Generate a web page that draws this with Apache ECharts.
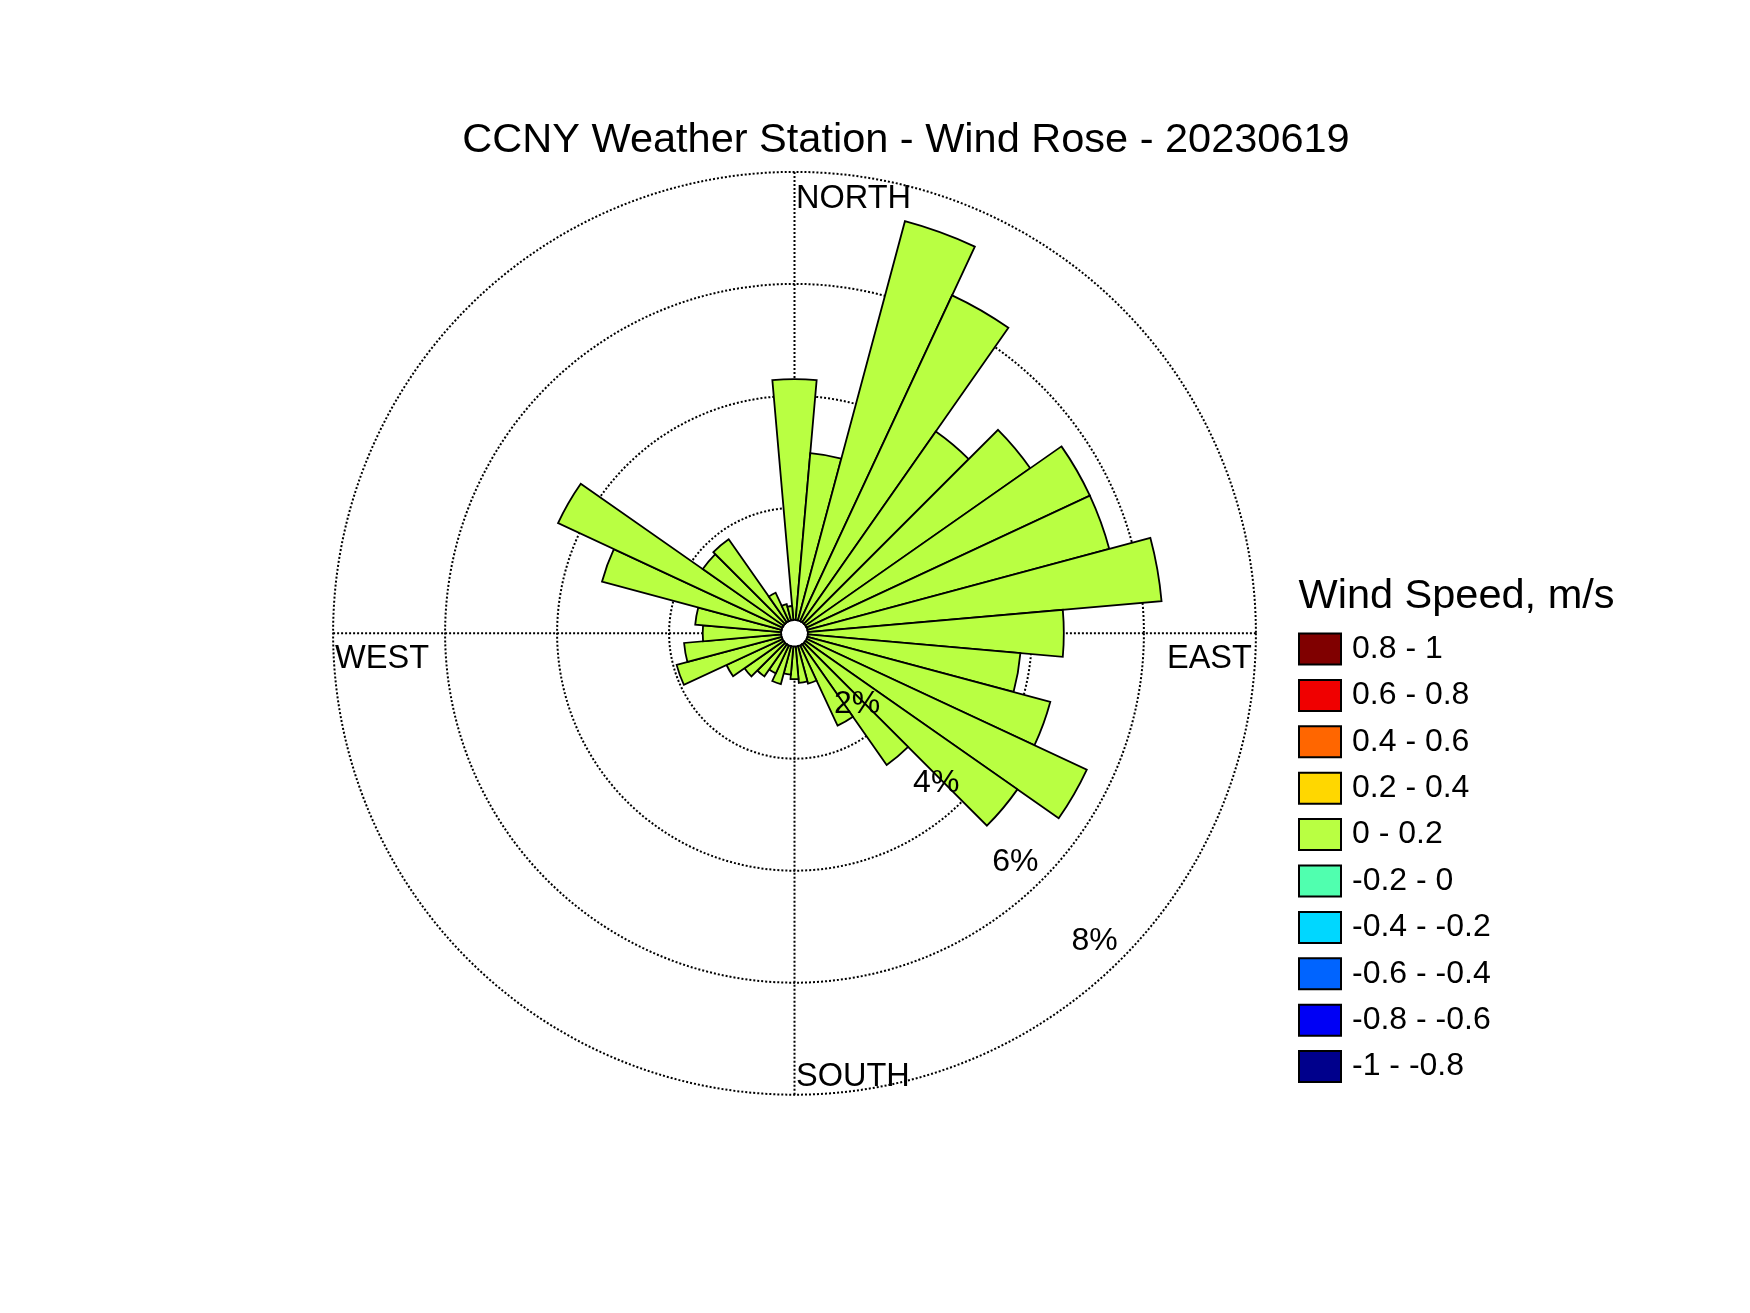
<!DOCTYPE html>
<html>
<head>
<meta charset="utf-8">
<script src="https://cdn.jsdelivr.net/npm/echarts@6/dist/echarts.min.js"></script>
<style>
html,body{margin:0;padding:0;background:#fff;}
#chart{width:1750px;height:1313px;}
</style>
</head>
<body>
<div id="chart"></div>
<script>
// ---------------- data ----------------
const titleText = 'CCNY Weather Station - Wind Rose - 20230619';
const legendTitle = 'Wind Speed, m/s';

// wind direction sectors (degrees, clockwise from north)
const directions = [0,10,20,30,40,50,60,70,80,90,100,110,120,130,140,150,160,170,
                    180,190,200,210,220,230,240,250,260,270,280,290,300,310,320,330,340,350];

// frequency (%) for the "0 - 0.2" speed bin
const freqBin_0_02 = [4.30,2.99,7.38,6.42,4.16,4.90,5.58,5.58,6.34,4.57,3.81,4.49,
                      5.52,4.62,2.63,1.58,0.69,0.65,0.58,0.50,0.70,0.55,0.70,0.85,
                      1.10,1.94,1.74,1.40,1.54,3.32,4.42,1.76,1.81,0.56,0.30,0.25];

// speed bins (legend order) and their colours
const speedBins = ['0.8 - 1','0.6 - 0.8','0.4 - 0.6','0.2 - 0.4','0 - 0.2',
                   '-0.2 - 0','-0.4 - -0.2','-0.6 - -0.4','-0.8 - -0.6','-1 - -0.8'];
const binColors = ['#800000','#F00000','#FF6600','#FFD700','#B9FF42',
                   '#50FFAF','#00D7FF','#0064FF','#0000F5','#00008C'];

// radial ticks
const ringTicks = [2,4,6,8];
const ringLabels = ['2%','4%','6%','8%'];

// compass labels
const compassNames = ['NORTH','EAST','SOUTH','WEST'];
const compassAngles = [0,90,180,270];

// ---------------- chart ----------------
const FONT = '"Liberation Sans", Arial, Helvetica, sans-serif';
const CENTER = [794.5, 633.3];
const RADIUS = [13.4, 461.4];
const dotted = {color:'#000', width:2, type:[2,2]};

const chart = echarts.init(document.getElementById('chart'), null, {renderer:'canvas'});

const series = speedBins.map((name, i) => ({
  type:'bar',
  name: name,
  coordinateSystem:'polar',
  polarIndex:0,
  stack:'rose',
  barCategoryGap:'0%',
  data: name === '0 - 0.2' ? freqBin_0_02 : [],
  itemStyle:{color:binColors[i], borderColor:'#000', borderWidth:1.8},
  emphasis:{disabled:true},
  z:3
}));

const option = {
  backgroundColor:'#fff',
  animation:false,
  polar:[
    {center:CENTER, radius:RADIUS},
    {center:CENTER, radius:RADIUS}
  ],
  angleAxis:[
    {polarIndex:0, type:'category', data:directions.map(String), startAngle:95, clockwise:true,
     boundaryGap:true, axisLine:{show:false}, axisTick:{show:false}, axisLabel:{show:false},
     splitLine:{show:false}},
    {polarIndex:1, type:'value', min:0, max:360, interval:90, startAngle:90, clockwise:true,
     axisLine:{show:false}, axisTick:{show:false}, axisLabel:{show:false},
     splitLine:{show:true, lineStyle:dotted}}
  ],
  radiusAxis:[
    {polarIndex:0, type:'value', min:0, max:8, interval:2, axisLine:{show:false},
     axisTick:{show:false}, axisLabel:{show:false}, splitLine:{show:false}},
    {polarIndex:1, type:'value', min:0, max:8, interval:2, axisLine:{show:false},
     axisTick:{show:false}, axisLabel:{show:false},
     splitLine:{show:true, lineStyle:dotted}}
  ],
  legend:{
    data:speedBins,
    orient:'vertical',
    left:1298,
    top:632.5,
    padding:0,
    icon:'rect',
    itemWidth:42,
    itemHeight:31,
    itemGap:13.4,
    selectedMode:false,
    textStyle:{fontSize:32, fontFamily:FONT, color:'#000', lineHeight:31, padding:[0,0,0,6]}
  },
  series: series
};

chart.setOption(option);

// label placement through the polar coordinate system
const P = v => chart.convertToPixel({polarIndex:1}, v);
const gfx = [];
gfx.push({type:'text', x:906, y:140.5, silent:true, z:100,
  style:{text:titleText, fontSize:41.5, fontFamily:FONT, fill:'#000', align:'center', verticalAlign:'middle'}});
gfx.push({type:'text', x:1298.5, y:596.5, silent:true, z:100,
  style:{text:legendTitle, fontSize:41.5, fontFamily:FONT, fill:'#000', align:'left', verticalAlign:'middle'}});

const compassOffsets = [[1.5,27.5,'left'],[-4,25.5,'right'],[1.5,-17.5,'left'],[2,25.5,'left']];
compassNames.forEach((name, i) => {
  const p = P([8, compassAngles[i]]);
  const o = compassOffsets[i];
  gfx.push({type:'text', x:p[0]+o[0], y:p[1]+o[1], silent:true, z:100,
    style:{text:name, fontSize:32.5, fontFamily:FONT, fill:'#000', align:o[2], verticalAlign:'middle'}});
});
ringTicks.forEach((t, i) => {
  const p = P([t, 135]);
  gfx.push({type:'text', x:p[0]-3, y:p[1]-18, silent:true, z:100,
    style:{text:ringLabels[i], fontSize:32, fontFamily:FONT, fill:'#000', align:'right', verticalAlign:'middle'}});
});
chart.setOption({graphic:{elements:gfx}});
</script>
</body>
</html>
